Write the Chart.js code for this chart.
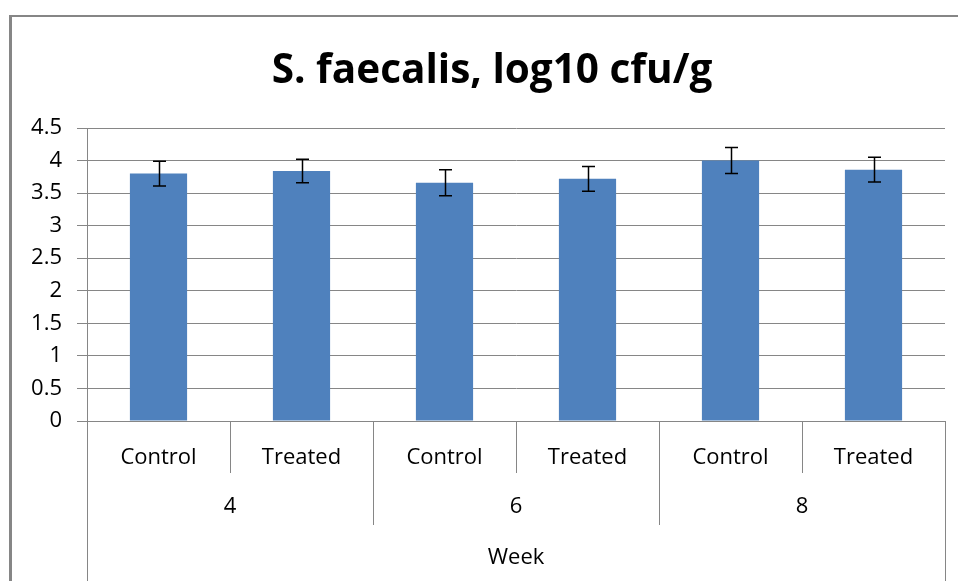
<!DOCTYPE html>
<html>
<head>
<meta charset="utf-8">
<script src="https://cdn.jsdelivr.net/npm/chart.js@4.4.1/dist/chart.umd.min.js"></script>
<style>
  html, body { margin: 0; padding: 0; background: #fff; overflow: hidden; }
  #frame {
    position: absolute; left: 9px; top: 15px; width: 1200px; height: 800px;
    border-top: 2px solid #868686; border-left: 3px solid #868686;
  }
  #wrap { position: absolute; left: 0; top: 0; width: 958px; height: 581px; }
</style>
</head>
<body>
<div id="frame"></div>
<div id="wrap"><canvas id="chart-bar"></canvas></div>
<script>
// --- data ---
const chartTitle = 'S. faecalis, log10 cfu/g';
const groups     = ['Control', 'Treated', 'Control', 'Treated', 'Control', 'Treated'];
const weeks      = ['4', '6', '8'];
const axisTitle  = ['Week'];
const meanValues = [3.80, 3.84, 3.66, 3.72, 4.00, 3.86];
const errValues  = [0.19, 0.18, 0.20, 0.19, 0.20, 0.19];
const yTicks     = [0, 0.5, 1, 1.5, 2, 2.5, 3, 3.5, 4, 4.5];

const gridColor = '#868686';
const fontFam = '"Open Sans", sans-serif';

// title centred on the (cropped) outer frame, not on the canvas
const frameTitle = {
  id: 'frameTitle',
  afterDraw(chart) {
    const { ctx } = chart;
    ctx.save();
    ctx.font = 'bold 40.5px ' + fontFam;
    ctx.fillStyle = '#000';
    ctx.textAlign = 'center';
    ctx.textBaseline = 'alphabetic';
    ctx.fillText(chartTitle, 492, 83);
    ctx.restore();
  }
};

// error bars, drawn through the y scale
const errorBars = {
  id: 'errorBars',
  afterDatasetsDraw(chart) {
    const { ctx } = chart;
    const y = chart.scales.y;
    const meta = chart.getDatasetMeta(0);
    ctx.save();
    ctx.strokeStyle = '#000';
    ctx.lineWidth = 1.5;
    meta.data.forEach((bar, i) => {
      const top = y.getPixelForValue(meanValues[i] + errValues[i]);
      const bot = y.getPixelForValue(meanValues[i] - errValues[i]);
      const cx = Math.round(bar.x) + 0.5;
      ctx.beginPath();
      ctx.moveTo(cx, top); ctx.lineTo(cx, bot);
      ctx.moveTo(cx - 6.5, top); ctx.lineTo(cx + 6.5, top);
      ctx.moveTo(cx - 6.5, bot); ctx.lineTo(cx + 6.5, bot);
      ctx.stroke();
    });
    ctx.restore();
  }
};

// Excel-style multi-level category separators
const groupLines = {
  id: 'groupLines',
  afterDraw(chart) {
    const { ctx } = chart;
    const x = chart.scales.x, x2 = chart.scales.x2, x3 = chart.scales.x3;
    ctx.save();
    ctx.strokeStyle = gridColor;
    ctx.lineWidth = 1;
    for (let i = 0; i <= groups.length; i++) {
      const px = Math.round(x.getPixelForValue(i - 0.5)) + 0.5;
      let end = x.bottom;
      if (i === 0 || i === groups.length) end = x3.bottom;
      else if (i % 2 === 0) end = x2.bottom;
      ctx.beginPath();
      ctx.moveTo(px, x.top);
      ctx.lineTo(px, end);
      ctx.stroke();
    }
    ctx.restore();
  }
};

new Chart(document.getElementById('chart-bar'), {
  type: 'bar',
  data: {
    labels: groups,
    datasets: [{
      data: meanValues,
      backgroundColor: '#4f81bd',
      categoryPercentage: 1,
      barPercentage: 0.4
    }]
  },
  options: {
    responsive: true,
    maintainAspectRatio: false,
    animation: false,
    layout: { padding: { left: 0, right: 13, top: 128, bottom: 0 } },
    plugins: {
      legend: { display: false },
      tooltip: { enabled: false },
      title: { display: false }
    },
    scales: {
      y: {
        min: 0, max: 4.5,
        afterBuildTicks: s => { s.ticks = yTicks.map(v => ({ value: v })); },
        afterFit: s => { s.width = 87; },
        grid: { color: gridColor, tickLength: 10 },
        border: { display: true, color: gridColor },
        ticks: {
          color: '#000', padding: 15, font: { family: fontFam, size: 22 },
          callback: v => String(v)
        }
      },
      x: {
        afterFit: s => { s.height = 52; },
        grid: { display: false },
        border: { display: true, color: gridColor },
        ticks: { color: '#000', padding: 16, font: { family: fontFam, size: 22 }, maxRotation: 0 }
      },
      x2: {
        type: 'category',
        labels: weeks,
        position: 'bottom',
        offset: true,
        afterFit: s => { s.height = 52; },
        grid: { display: false },
        border: { display: false },
        ticks: { color: '#000', padding: 13, font: { family: fontFam, size: 22 }, maxRotation: 0 }
      },
      x3: {
        type: 'category',
        labels: axisTitle,
        position: 'bottom',
        offset: true,
        afterFit: s => { s.height = 56; },
        grid: { display: false },
        border: { display: false },
        ticks: { color: '#000', padding: 12, font: { family: fontFam, size: 22 }, maxRotation: 0 }
      }
    }
  },
  plugins: [errorBars, groupLines, frameTitle]
});
</script>
</body>
</html>
